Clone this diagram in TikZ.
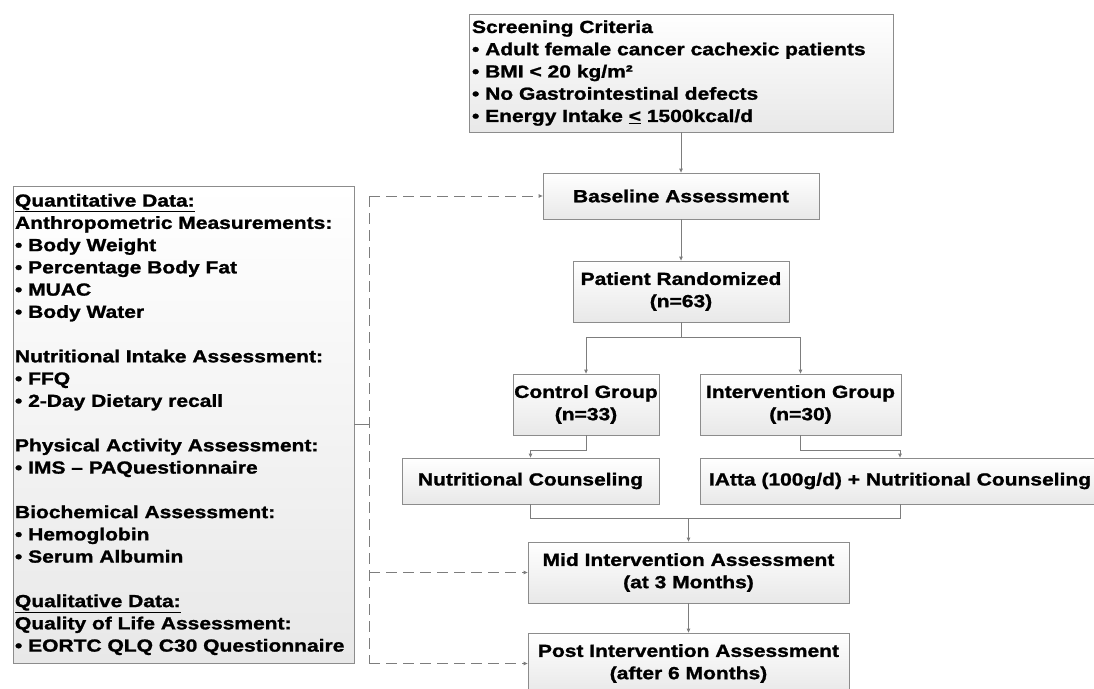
\documentclass[tikz,border=0pt]{standalone}
\usepackage{fontspec}
\setmainfont{Liberation Sans}[FakeStretch=1.2, BoldFeatures={FakeBold=1.3}]
\usetikzlibrary{arrows.meta}
\definecolor{linec}{RGB}{125,125,125}
\definecolor{boxc}{RGB}{140,140,140}
\begin{document}
\begin{tikzpicture}[x=1pt,y=-1pt,
  box/.style={draw=boxc, line width=0.8pt, top color=white, bottom color=black!9,
    inner sep=0pt, align=center, font=\fontsize{17.5}{22.25}\selectfont\bfseries},
  conn/.style={draw=linec, line width=0.8pt},
  arr/.style={conn, -{Triangle[length=4pt,width=3.5pt]}},
  dsh/.style={conn, dash pattern=on 11pt off 6pt}]
\useasboundingbox (0,0) rectangle (1094,688);
\clip (0,0) rectangle (1094,688);
\fill[white] (0,0) rectangle (1094,688);

\node[box, minimum width=424pt, minimum height=118pt, text width=418pt, align=left] (scr) at (681,73)
  {Screening Criteria\\• Adult female cancer cachexic patients\\• BMI < 20 kg/m²\\• No Gastrointestinal defects\\• Energy Intake \underline{<} 1500kcal/d};
\node[box, minimum width=276pt, minimum height=46pt] (base) at (681,196) {Baseline Assessment};
\node[box, minimum width=216pt, minimum height=61pt] (rand) at (681,291.5) {Patient Randomized\\(n=63)};
\node[box, minimum width=146pt, minimum height=61pt] (ctrl) at (586,404.5) {Control Group\\(n=33)};
\node[box, minimum width=201pt, minimum height=61pt] (intv) at (800.5,404.5) {Intervention Group\\(n=30)};
\node[box, minimum width=257pt, minimum height=46pt] (nc) at (530.5,481) {Nutritional Counseling};
\node[box, minimum width=400pt, minimum height=46pt] (iatta) at (900,481) {IAtta (100g/d) + Nutritional Counseling};
\node[box, minimum width=321pt, minimum height=61pt] (mid) at (688.5,572.5) {Mid Intervention Assessment\\(at 3 Months)};
\node[box, minimum width=321pt, minimum height=61pt] (post) at (688.5,663.5) {Post Intervention Assessment\\(after 6 Months)};

\node[box, minimum width=341pt, minimum height=477pt, text width=337pt, align=left] (left) at (183.5,424.5)
  {\underline{Quantitative Data:}\\
   Anthropometric Measurements:\\
   • Body Weight\\
   • Percentage Body Fat\\
   • MUAC\\
   • Body Water\\[22.25pt]
   Nutritional Intake Assessment:\\
   • FFQ\\
   • 2-Day Dietary recall\\[22.25pt]
   Physical Activity Assessment:\\
   • IMS – PAQuestionnaire\\[22.25pt]
   Biochemical Assessment:\\
   • Hemoglobin\\
   • Serum Albumin\\[22.25pt]
   \underline{Qualitative Data:}\\
   Quality of Life Assessment:\\
   • EORTC QLQ C30 Questionnaire};

% main flow
\draw[arr] (scr.south) -- (base.north);
\draw[arr] (base.south) -- (rand.north);
\coordinate (br) at (681,337);
\draw[conn] (rand.south) -- (br);
\draw[arr] (br) -| (ctrl.north);
\draw[arr] (br) -| (intv.north);
\draw[arr] (ctrl.south) -- ++(0,15) -| (nc.north);
\draw[arr] (intv.south) -- ++(0,15) -| (iatta.north);
\coordinate (mg) at (688.5,518.5);
\draw[conn] (nc.south) |- (mg) -| (iatta.south);
\draw[arr] (mg) -- (mid.north);
\draw[arr] (mid.south) -- (post.north);

% left side links
\coordinate (dv) at (369,424.5);
\coordinate (dtop) at (369,196);
\coordinate (dbot) at (369,663.5);
\draw[conn] (left.east) -- (dv);
\draw[dsh] (dtop) -- (dbot);
\draw[dsh, -{Triangle[length=4pt,width=3.5pt]}] (dtop) -- (base.west);
\draw[dsh, -{Triangle[length=4pt,width=3.5pt]}] (dv |- mid.west) -- (mid.west);
\draw[dsh, -{Triangle[length=4pt,width=3.5pt]}] (dbot) -- (post.west);
\end{tikzpicture}
\end{document}
